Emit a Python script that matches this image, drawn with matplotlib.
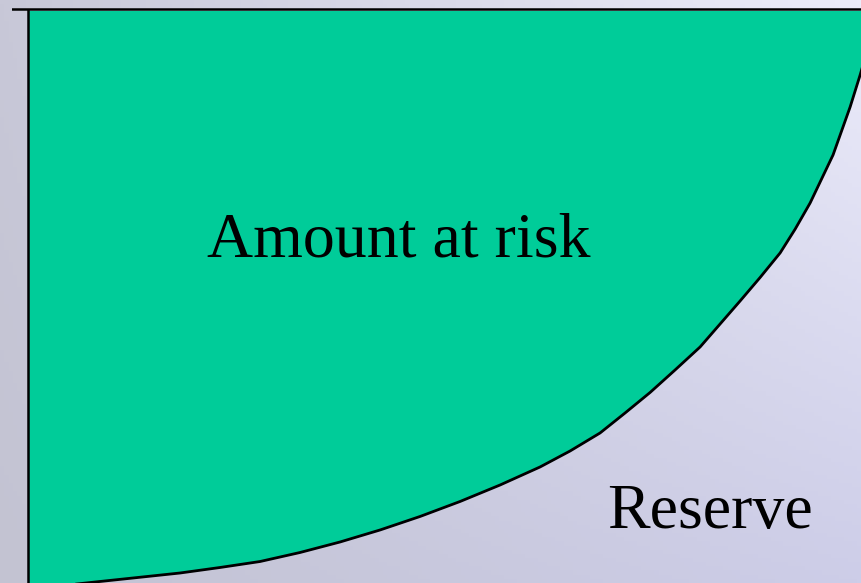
import matplotlib.pyplot as plt
import numpy as np

# policy year and reserve (% of sum assured)
years = [0.0, 1.62, 3.66, 4.62, 5.58, 6.54, 7.50, 8.46, 9.42, 10.38, 11.34,
         12.30, 13.02, 13.74, 14.34, 14.94, 15.54, 16.14, 17.10, 17.58, 18.06,
         18.42, 18.78, 19.33, 19.74, 19.98, 20.05]
reserve = [-1.1, 0.17, 1.74, 2.70, 3.74, 5.31, 7.14, 9.23, 11.58, 14.19, 17.06,
           20.20, 22.98, 26.12, 29.60, 33.17, 37.09, 41.09, 49.10, 53.19, 57.46,
           61.60, 66.16, 74.52, 82.88, 88.45, 90.2]
sum_assured = 100.0
labels = ["Amount at risk", "Reserve"]
label_pos = [(8.92, 56.8), (16.38, 9.6)]

W, H = 861, 583
fig = plt.figure(figsize=(W / 100, H / 100), dpi=100)

# soft lavender background
bg = fig.add_axes([0, 0, 1, 1])
gx, gy = np.meshgrid(np.linspace(0, 1, 200), np.linspace(0, 1, 140))
tl = np.array([200, 200, 216]) / 255
tr = np.array([236, 236, 250]) / 255
bl = np.array([195, 195, 210]) / 255
br = np.array([205, 205, 232]) / 255
img = ((1 - gx)[..., None] * ((1 - gy)[..., None] * tl + gy[..., None] * bl)
       + gx[..., None] * ((1 - gy)[..., None] * tr + gy[..., None] * br))
bg.imshow(img, aspect="auto", extent=[0, 1, 0, 1], origin="upper")
bg.axis("off")

# main axes: t=0 at x=27.5 px, 100% at y=8.5 px, 0% at bottom edge
px_per_year = (861 - 27.5) / 20.0
px_per_unit = (583 - 8.5) / sum_assured
left_px = 12
ax = fig.add_axes([left_px / W, 0, 1 - left_px / W, 1])
ax.set_xlim(-(27.5 - left_px) / px_per_year, (W - 27.5) / px_per_year)
ax.set_ylim(0, sum_assured + 8.5 / px_per_unit)
ax.patch.set_alpha(0)
for s in ax.spines.values():
	s.set_visible(False)
ax.set_xticks([])
ax.set_yticks([])

ax.fill_between(years, reserve, sum_assured - 0.35, color="#00CC99", lw=0, zorder=1)
ax.plot(years, reserve, color="black", lw=2.0, zorder=3, solid_joinstyle="round")
ax.axhline(sum_assured, color="black", lw=1.8, zorder=3)
ax.vlines(0, -5, sum_assured, color="black", lw=1.8, zorder=3)

for text, (x, y) in zip(labels, label_pos):
	ax.text(x, y, text, ha="center", va="baseline", fontsize=46,
			family="Liberation Serif", color="black", zorder=4)

fig.savefig("out.png", dpi=100)
